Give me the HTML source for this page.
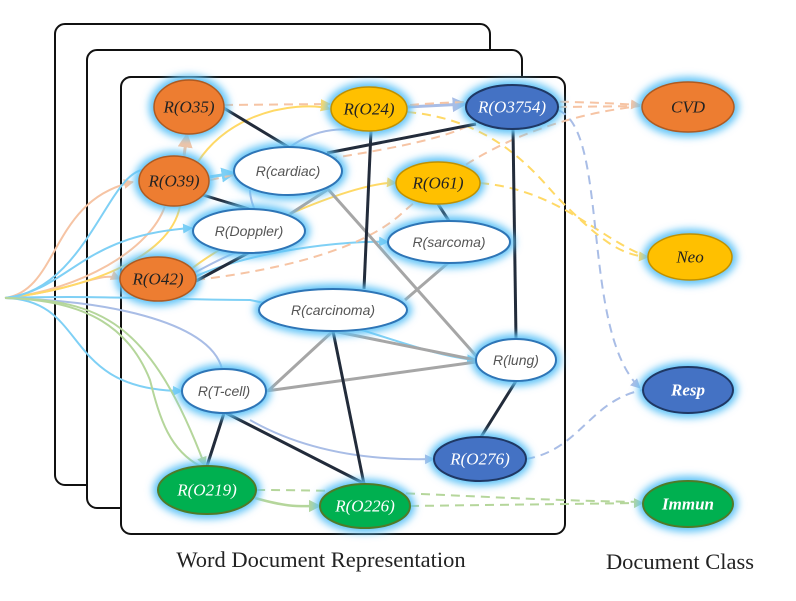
<!DOCTYPE html>
<html><head><meta charset="utf-8"><style>
body{margin:0;background:#fff;width:796px;height:601px;overflow:hidden}
svg{display:block}
.t{font-family:"Liberation Serif",serif;font-style:italic;font-size:17px;text-anchor:middle;dominant-baseline:central}
.w{font-family:"Liberation Sans",sans-serif;font-style:italic;font-size:14px;fill:#555;text-anchor:middle;dominant-baseline:central}
.cap{font-family:"Liberation Serif",serif;font-size:22.5px;fill:#222;text-anchor:middle}
</style></head><body>
<svg width="796" height="601" viewBox="0 0 796 601" xmlns="http://www.w3.org/2000/svg">
<defs>
<filter id="g" x="-50%" y="-50%" width="200%" height="200%"><feGaussianBlur stdDeviation="4"/></filter>
<marker id="ab" viewBox="0 0 10 10" refX="9" refY="5" markerWidth="5" markerHeight="5" orient="auto"><path d="M0,0L10,5L0,10z" fill="#7fd0f5"/></marker>
<marker id="ao" viewBox="0 0 10 10" refX="9" refY="5" markerWidth="5" markerHeight="5" orient="auto"><path d="M0,0L10,5L0,10z" fill="#f6c4a4"/></marker>
<marker id="ay" viewBox="0 0 10 10" refX="9" refY="5" markerWidth="5" markerHeight="5" orient="auto"><path d="M0,0L10,5L0,10z" fill="#ffd966"/></marker>
<marker id="ad" viewBox="0 0 10 10" refX="9" refY="5" markerWidth="5" markerHeight="5" orient="auto"><path d="M0,0L10,5L0,10z" fill="#a9bde6"/></marker>
<marker id="ag" viewBox="0 0 10 10" refX="9" refY="5" markerWidth="5" markerHeight="5" orient="auto"><path d="M0,0L10,5L0,10z" fill="#b5d69b"/></marker>
</defs>
<rect x="55" y="24" width="435" height="461" rx="10" fill="#fff" stroke="#111" stroke-width="2"/>
<rect x="87" y="50" width="435" height="458" rx="10" fill="#fff" stroke="#111" stroke-width="2"/>
<rect x="121" y="77" width="444" height="457" rx="10" fill="#fff" stroke="#111" stroke-width="2"/>

<g fill="none" stroke-width="2">
<path d="M5,298 C60,290 50,200 133,182" stroke="#f6c4a4" marker-end="url(#ao)"/>
<path d="M5,298 C80,290 100,270 120,279" stroke="#f6c4a4" marker-end="url(#ao)"/>
<path d="M5,298 C80,290 150,250 165,206" stroke="#f6c4a4"/>
<path d="M5,298 C80,290 170,260 180,206 C200,110 300,100 330,109" stroke="#ffd966" marker-end="url(#ay)"/>
<path d="M5,298 C90,290 110,160 150,170" stroke="#7fd0f5"/>
<path d="M5,298 C70,290 80,235 192,228" stroke="#7fd0f5" marker-end="url(#ab)"/>
<path d="M5,298 C100,295 170,300 250,300 C350,320 420,355 476,360" stroke="#7fd0f5" marker-end="url(#ab)"/>
<path d="M5,298 C90,300 60,390 182,391" stroke="#7fd0f5" marker-end="url(#ab)"/>
<path d="M5,298 C100,300 210,320 222,369" stroke="#a9bde6"/>
<path d="M5,298 C100,300 150,320 205,466" stroke="#b5d69b" marker-end="url(#ag)"/>
<path d="M5,298 C90,300 130,330 150,380 C160,420 170,450 200,466" stroke="#b5d69b"/>
<path d="M190,279 C250,250 350,240 388,242" stroke="#7fd0f5" marker-end="url(#ab)"/>
<path d="M190,275 C220,260 240,245 290,240" stroke="#a9bde6"/>
<path d="M190,270 C240,230 360,180 396,183" stroke="#ffd966" marker-end="url(#ay)"/>
<path d="M209,177 L235,173" stroke="#7fd0f5" stroke-width="3" marker-end="url(#ab)"/>
<path d="M184,156 L187,134" stroke="#f6c4a4" stroke-width="3" marker-end="url(#ao)"/>
<path d="M290,147 C320,125 350,130 350,130" stroke="#a9bde6"/>
<path d="M407,107 L466,104" stroke="#a9bde6" stroke-width="3" marker-end="url(#ad)"/>
<path d="M250,420 C320,460 400,460 434,459" stroke="#a9bde6" marker-end="url(#ad)"/>
<path d="M255,498 C290,508 300,506 320,506" stroke="#b5d69b" stroke-width="2.5" marker-end="url(#ag)"/>
<path d="M255,210 C250,200 250,190 250,190" stroke="#a9bde6"/>
</g>
<g fill="none" stroke-width="2" stroke-dasharray="9,6">
<path d="M224,105 L330,104" stroke="#f6c4a4" marker-end="url(#ay)"/>
<path d="M410,105 C470,100 560,100 640,105" stroke="#f6c4a4" marker-end="url(#ao)"/>
<path d="M558,107 L640,106" stroke="#f6c4a4"/>
<path d="M210,180 C300,160 420,150 470,125" stroke="#f6c4a4"/>
<path d="M196,280 C280,270 360,250 400,215 C450,170 520,120 640,106" stroke="#f6c4a4"/>
<path d="M407,112 C500,120 540,180 560,200 C600,240 620,255 648,257" stroke="#ffd966" marker-end="url(#ay)"/>
<path d="M480,183 C560,190 600,240 648,257" stroke="#ffd966"/>
<path d="M558,110 C610,130 580,330 640,388" stroke="#a9bde6" marker-end="url(#ad)"/>
<path d="M526,459 C580,450 590,400 643,390" stroke="#a9bde6"/>
<path d="M256,490 C400,490 500,500 643,502" stroke="#b5d69b"/>
<path d="M410,506 L643,503" stroke="#b5d69b" marker-end="url(#ag)"/>
</g>
<g stroke="#a6a6a6" stroke-width="3">
<line x1="327" y1="188" x2="478" y2="358"/>
<line x1="290" y1="214" x2="327" y2="190"/>
<line x1="448" y1="263" x2="405" y2="300"/>
<line x1="333" y1="331" x2="476" y2="360"/>
<line x1="333" y1="331" x2="268" y2="391"/>
<line x1="266" y1="391" x2="476" y2="362"/>
</g>
<g stroke="#222b3a" stroke-width="3">
<line x1="222" y1="107" x2="290" y2="148"/>
<line x1="327" y1="153" x2="476" y2="124"/>
<line x1="203" y1="195" x2="249" y2="209"/>
<line x1="196" y1="281" x2="250" y2="252"/>
<line x1="371" y1="131" x2="364" y2="289"/>
<line x1="438" y1="204" x2="449" y2="221"/>
<line x1="513" y1="129" x2="516" y2="339"/>
<line x1="516" y1="381" x2="481" y2="437"/>
<line x1="224" y1="413" x2="207" y2="466"/>
<line x1="226" y1="413" x2="365" y2="484"/>
<line x1="333" y1="331" x2="364" y2="484"/>
</g>
<g>
<g transform="translate(189,107)"><ellipse rx="40" ry="32" fill="#5ec3f7" filter="url(#g)"/><ellipse rx="35" ry="27" fill="#ED7D31" stroke="#AE5A21" stroke-width="1.5"/><text class="t" fill="#222">R(O35)</text></g>
<g transform="translate(369,109)"><ellipse rx="43" ry="27" fill="#5ec3f7" filter="url(#g)"/><ellipse rx="38" ry="22" fill="#FFC000" stroke="#BF9000" stroke-width="1.5"/><text class="t" fill="#222">R(O24)</text></g>
<g transform="translate(512,107)"><ellipse rx="51" ry="27" fill="#5ec3f7" filter="url(#g)"/><ellipse rx="46" ry="22" fill="#4472C4" stroke="#1f3864" stroke-width="2"/><text class="t" fill="#fff">R(O3754)</text></g>
<g transform="translate(688,107)"><ellipse rx="51" ry="30" fill="#5ec3f7" filter="url(#g)"/><ellipse rx="46" ry="25" fill="#ED7D31" stroke="#AE5A21" stroke-width="1.5"/><text class="t" fill="#222">CVD</text></g>
<g transform="translate(174,181)"><ellipse rx="40" ry="30" fill="#5ec3f7" filter="url(#g)"/><ellipse rx="35" ry="25" fill="#ED7D31" stroke="#AE5A21" stroke-width="1.5"/><text class="t" fill="#222">R(O39)</text></g>
<g transform="translate(288,171)"><ellipse rx="59" ry="29" fill="#5ec3f7" filter="url(#g)"/><ellipse rx="54" ry="24" fill="#fff" stroke="#2e75b6" stroke-width="2"/><text class="w">R(cardiac)</text></g>
<g transform="translate(438,183)"><ellipse rx="47" ry="26" fill="#5ec3f7" filter="url(#g)"/><ellipse rx="42" ry="21" fill="#FFC000" stroke="#BF9000" stroke-width="1.5"/><text class="t" fill="#222">R(O61)</text></g>
<g transform="translate(249,231)"><ellipse rx="61" ry="27" fill="#5ec3f7" filter="url(#g)"/><ellipse rx="56" ry="22" fill="#fff" stroke="#2e75b6" stroke-width="2"/><text class="w">R(Doppler)</text></g>
<g transform="translate(449,242)"><ellipse rx="66" ry="26" fill="#5ec3f7" filter="url(#g)"/><ellipse rx="61" ry="21" fill="#fff" stroke="#2e75b6" stroke-width="2"/><text class="w">R(sarcoma)</text></g>
<g transform="translate(158,279)"><ellipse rx="43" ry="27" fill="#5ec3f7" filter="url(#g)"/><ellipse rx="38" ry="22" fill="#ED7D31" stroke="#AE5A21" stroke-width="1.5"/><text class="t" fill="#222">R(O42)</text></g>
<g transform="translate(333,310)"><ellipse rx="79" ry="26" fill="#5ec3f7" filter="url(#g)"/><ellipse rx="74" ry="21" fill="#fff" stroke="#2e75b6" stroke-width="2"/><text class="w">R(carcinoma)</text></g>
<g transform="translate(516,360)"><ellipse rx="45" ry="26" fill="#5ec3f7" filter="url(#g)"/><ellipse rx="40" ry="21" fill="#fff" stroke="#2e75b6" stroke-width="2"/><text class="w">R(lung)</text></g>
<g transform="translate(224,391)"><ellipse rx="47" ry="27" fill="#5ec3f7" filter="url(#g)"/><ellipse rx="42" ry="22" fill="#fff" stroke="#2e75b6" stroke-width="2"/><text class="w">R(T-cell)</text></g>
<g transform="translate(690,257)"><ellipse rx="47" ry="28" fill="#5ec3f7" filter="url(#g)"/><ellipse rx="42" ry="23" fill="#FFC000" stroke="#BF9000" stroke-width="1.5"/><text class="t" fill="#222">Neo</text></g>
<g transform="translate(688,390)"><ellipse rx="50" ry="28" fill="#5ec3f7" filter="url(#g)"/><ellipse rx="45" ry="23" fill="#4472C4" stroke="#1f3864" stroke-width="2"/><text class="t" fill="#fff" font-weight="bold">Resp</text></g>
<g transform="translate(480,459)"><ellipse rx="51" ry="27" fill="#5ec3f7" filter="url(#g)"/><ellipse rx="46" ry="22" fill="#4472C4" stroke="#1f3864" stroke-width="2"/><text class="t" fill="#fff">R(O276)</text></g>
<g transform="translate(207,490)"><ellipse rx="54" ry="29" fill="#5ec3f7" filter="url(#g)"/><ellipse rx="49" ry="24" fill="#00B050" stroke="#4f7a28" stroke-width="2"/><text class="t" fill="#fff">R(O219)</text></g>
<g transform="translate(365,506)"><ellipse rx="50" ry="27" fill="#5ec3f7" filter="url(#g)"/><ellipse rx="45" ry="22" fill="#00B050" stroke="#4f7a28" stroke-width="2"/><text class="t" fill="#fff">R(O226)</text></g>
<g transform="translate(688,504)"><ellipse rx="50" ry="28" fill="#5ec3f7" filter="url(#g)"/><ellipse rx="45" ry="23" fill="#00B050" stroke="#4f7a28" stroke-width="2"/><text class="t" fill="#fff" font-weight="bold">Immun</text></g>
</g>
<text class="cap" x="321" y="567">Word Document Representation</text>
<text class="cap" x="680" y="569">Document Class</text>
</svg>
</body></html>
